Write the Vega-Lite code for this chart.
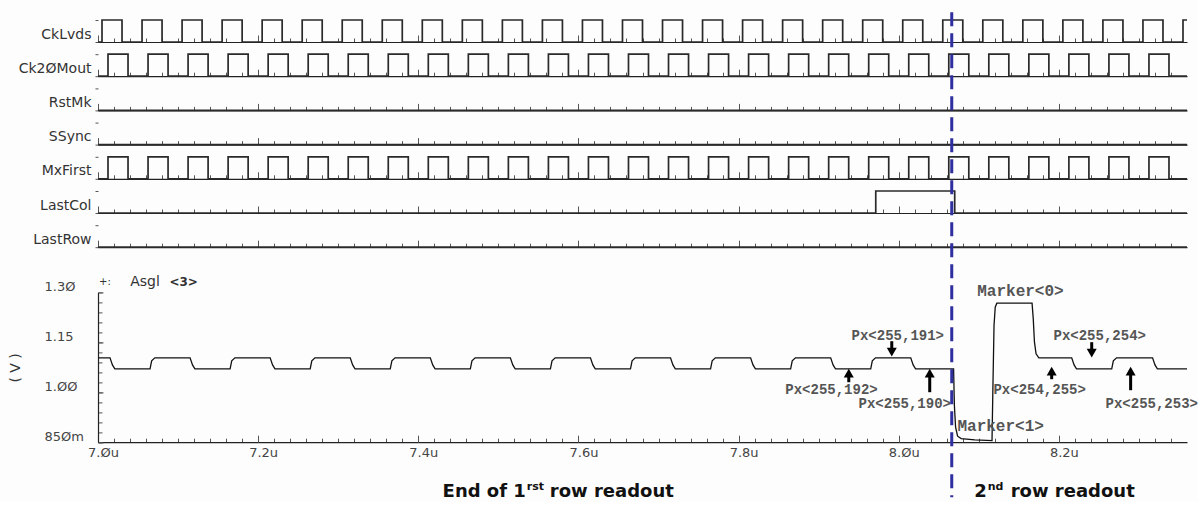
{
"$schema": "https://vega.github.io/schema/vega-lite/v6.json",
"background": "#fdfdfd",
"padding": {"left": 8, "top": 10, "right": 0, "bottom": 0},
"config": {
  "view": {"stroke": null},
  "axis": {"grid": false, "labelOverlap": false, "labelFlush": false, "labelFont": "DejaVu Sans", "titleFont": "DejaVu Sans", "labelColor": "#444", "titleColor": "#333", "domainColor": "#222", "tickColor": "#555"}
},
"datasets": {
  "digital": [
    {"signal":"CkLvds","t":7.000,"level":0},{"signal":"CkLvds","t":7.005,"level":1},{"signal":"CkLvds","t":7.030,"level":0},{"signal":"CkLvds","t":7.055,"level":1},{"signal":"CkLvds","t":7.080,"level":0},{"signal":"CkLvds","t":7.105,"level":1},{"signal":"CkLvds","t":7.130,"level":0},{"signal":"CkLvds","t":7.155,"level":1},{"signal":"CkLvds","t":7.180,"level":0},{"signal":"CkLvds","t":7.205,"level":1},{"signal":"CkLvds","t":7.230,"level":0},{"signal":"CkLvds","t":7.255,"level":1},{"signal":"CkLvds","t":7.280,"level":0},{"signal":"CkLvds","t":7.305,"level":1},{"signal":"CkLvds","t":7.330,"level":0},{"signal":"CkLvds","t":7.355,"level":1},{"signal":"CkLvds","t":7.380,"level":0},{"signal":"CkLvds","t":7.405,"level":1},{"signal":"CkLvds","t":7.430,"level":0},{"signal":"CkLvds","t":7.455,"level":1},{"signal":"CkLvds","t":7.480,"level":0},{"signal":"CkLvds","t":7.505,"level":1},{"signal":"CkLvds","t":7.530,"level":0},{"signal":"CkLvds","t":7.555,"level":1},{"signal":"CkLvds","t":7.580,"level":0},{"signal":"CkLvds","t":7.605,"level":1},{"signal":"CkLvds","t":7.630,"level":0},{"signal":"CkLvds","t":7.655,"level":1},{"signal":"CkLvds","t":7.680,"level":0},{"signal":"CkLvds","t":7.705,"level":1},{"signal":"CkLvds","t":7.730,"level":0},{"signal":"CkLvds","t":7.755,"level":1},{"signal":"CkLvds","t":7.780,"level":0},{"signal":"CkLvds","t":7.805,"level":1},{"signal":"CkLvds","t":7.830,"level":0},{"signal":"CkLvds","t":7.855,"level":1},{"signal":"CkLvds","t":7.880,"level":0},{"signal":"CkLvds","t":7.905,"level":1},{"signal":"CkLvds","t":7.930,"level":0},{"signal":"CkLvds","t":7.955,"level":1},{"signal":"CkLvds","t":7.980,"level":0},{"signal":"CkLvds","t":8.005,"level":1},{"signal":"CkLvds","t":8.030,"level":0},{"signal":"CkLvds","t":8.055,"level":1},{"signal":"CkLvds","t":8.080,"level":0},{"signal":"CkLvds","t":8.105,"level":1},{"signal":"CkLvds","t":8.130,"level":0},{"signal":"CkLvds","t":8.155,"level":1},{"signal":"CkLvds","t":8.180,"level":0},{"signal":"CkLvds","t":8.205,"level":1},{"signal":"CkLvds","t":8.230,"level":0},{"signal":"CkLvds","t":8.255,"level":1},{"signal":"CkLvds","t":8.280,"level":0},{"signal":"CkLvds","t":8.305,"level":1},{"signal":"CkLvds","t":8.330,"level":0},{"signal":"CkLvds","t":8.355,"level":1},{"signal":"CkLvds","t":8.360,"level":1},
    {"signal":"Ck20Mout","t":7.000,"level":0},{"signal":"Ck20Mout","t":7.0125,"level":1},{"signal":"Ck20Mout","t":7.0375,"level":0},{"signal":"Ck20Mout","t":7.0625,"level":1},{"signal":"Ck20Mout","t":7.0875,"level":0},{"signal":"Ck20Mout","t":7.1125,"level":1},{"signal":"Ck20Mout","t":7.1375,"level":0},{"signal":"Ck20Mout","t":7.1625,"level":1},{"signal":"Ck20Mout","t":7.1875,"level":0},{"signal":"Ck20Mout","t":7.2125,"level":1},{"signal":"Ck20Mout","t":7.2375,"level":0},{"signal":"Ck20Mout","t":7.2625,"level":1},{"signal":"Ck20Mout","t":7.2875,"level":0},{"signal":"Ck20Mout","t":7.3125,"level":1},{"signal":"Ck20Mout","t":7.3375,"level":0},{"signal":"Ck20Mout","t":7.3625,"level":1},{"signal":"Ck20Mout","t":7.3875,"level":0},{"signal":"Ck20Mout","t":7.4125,"level":1},{"signal":"Ck20Mout","t":7.4375,"level":0},{"signal":"Ck20Mout","t":7.4625,"level":1},{"signal":"Ck20Mout","t":7.4875,"level":0},{"signal":"Ck20Mout","t":7.5125,"level":1},{"signal":"Ck20Mout","t":7.5375,"level":0},{"signal":"Ck20Mout","t":7.5625,"level":1},{"signal":"Ck20Mout","t":7.5875,"level":0},{"signal":"Ck20Mout","t":7.6125,"level":1},{"signal":"Ck20Mout","t":7.6375,"level":0},{"signal":"Ck20Mout","t":7.6625,"level":1},{"signal":"Ck20Mout","t":7.6875,"level":0},{"signal":"Ck20Mout","t":7.7125,"level":1},{"signal":"Ck20Mout","t":7.7375,"level":0},{"signal":"Ck20Mout","t":7.7625,"level":1},{"signal":"Ck20Mout","t":7.7875,"level":0},{"signal":"Ck20Mout","t":7.8125,"level":1},{"signal":"Ck20Mout","t":7.8375,"level":0},{"signal":"Ck20Mout","t":7.8625,"level":1},{"signal":"Ck20Mout","t":7.8875,"level":0},{"signal":"Ck20Mout","t":7.9125,"level":1},{"signal":"Ck20Mout","t":7.9375,"level":0},{"signal":"Ck20Mout","t":7.9625,"level":1},{"signal":"Ck20Mout","t":7.9875,"level":0},{"signal":"Ck20Mout","t":8.0125,"level":1},{"signal":"Ck20Mout","t":8.0375,"level":0},{"signal":"Ck20Mout","t":8.0625,"level":1},{"signal":"Ck20Mout","t":8.0875,"level":0},{"signal":"Ck20Mout","t":8.1125,"level":1},{"signal":"Ck20Mout","t":8.1375,"level":0},{"signal":"Ck20Mout","t":8.1625,"level":1},{"signal":"Ck20Mout","t":8.1875,"level":0},{"signal":"Ck20Mout","t":8.2125,"level":1},{"signal":"Ck20Mout","t":8.2375,"level":0},{"signal":"Ck20Mout","t":8.2625,"level":1},{"signal":"Ck20Mout","t":8.2875,"level":0},{"signal":"Ck20Mout","t":8.3125,"level":1},{"signal":"Ck20Mout","t":8.3375,"level":0},{"signal":"Ck20Mout","t":8.360,"level":0},
    {"signal":"RstMk","t":7.000,"level":0},{"signal":"RstMk","t":8.360,"level":0},
    {"signal":"SSync","t":7.000,"level":0},{"signal":"SSync","t":8.360,"level":0},
    {"signal":"MxFirst","t":7.000,"level":0},{"signal":"MxFirst","t":7.0125,"level":1},{"signal":"MxFirst","t":7.0375,"level":0},{"signal":"MxFirst","t":7.0625,"level":1},{"signal":"MxFirst","t":7.0875,"level":0},{"signal":"MxFirst","t":7.1125,"level":1},{"signal":"MxFirst","t":7.1375,"level":0},{"signal":"MxFirst","t":7.1625,"level":1},{"signal":"MxFirst","t":7.1875,"level":0},{"signal":"MxFirst","t":7.2125,"level":1},{"signal":"MxFirst","t":7.2375,"level":0},{"signal":"MxFirst","t":7.2625,"level":1},{"signal":"MxFirst","t":7.2875,"level":0},{"signal":"MxFirst","t":7.3125,"level":1},{"signal":"MxFirst","t":7.3375,"level":0},{"signal":"MxFirst","t":7.3625,"level":1},{"signal":"MxFirst","t":7.3875,"level":0},{"signal":"MxFirst","t":7.4125,"level":1},{"signal":"MxFirst","t":7.4375,"level":0},{"signal":"MxFirst","t":7.4625,"level":1},{"signal":"MxFirst","t":7.4875,"level":0},{"signal":"MxFirst","t":7.5125,"level":1},{"signal":"MxFirst","t":7.5375,"level":0},{"signal":"MxFirst","t":7.5625,"level":1},{"signal":"MxFirst","t":7.5875,"level":0},{"signal":"MxFirst","t":7.6125,"level":1},{"signal":"MxFirst","t":7.6375,"level":0},{"signal":"MxFirst","t":7.6625,"level":1},{"signal":"MxFirst","t":7.6875,"level":0},{"signal":"MxFirst","t":7.7125,"level":1},{"signal":"MxFirst","t":7.7375,"level":0},{"signal":"MxFirst","t":7.7625,"level":1},{"signal":"MxFirst","t":7.7875,"level":0},{"signal":"MxFirst","t":7.8125,"level":1},{"signal":"MxFirst","t":7.8375,"level":0},{"signal":"MxFirst","t":7.8625,"level":1},{"signal":"MxFirst","t":7.8875,"level":0},{"signal":"MxFirst","t":7.9125,"level":1},{"signal":"MxFirst","t":7.9375,"level":0},{"signal":"MxFirst","t":7.9625,"level":1},{"signal":"MxFirst","t":7.9875,"level":0},{"signal":"MxFirst","t":8.0125,"level":1},{"signal":"MxFirst","t":8.0375,"level":0},{"signal":"MxFirst","t":8.0625,"level":1},{"signal":"MxFirst","t":8.0875,"level":0},{"signal":"MxFirst","t":8.1125,"level":1},{"signal":"MxFirst","t":8.1375,"level":0},{"signal":"MxFirst","t":8.1625,"level":1},{"signal":"MxFirst","t":8.1875,"level":0},{"signal":"MxFirst","t":8.2125,"level":1},{"signal":"MxFirst","t":8.2375,"level":0},{"signal":"MxFirst","t":8.2625,"level":1},{"signal":"MxFirst","t":8.2875,"level":0},{"signal":"MxFirst","t":8.3125,"level":1},{"signal":"MxFirst","t":8.3375,"level":0},{"signal":"MxFirst","t":8.360,"level":0},
    {"signal":"LastCol","t":7.000,"level":0},{"signal":"LastCol","t":7.9713,"level":1},{"signal":"LastCol","t":8.0699,"level":0},{"signal":"LastCol","t":8.360,"level":0},
    {"signal":"LastRow","t":7.000,"level":0},{"signal":"LastRow","t":8.360,"level":0}
  ],
  "analog": [
    {"t":7.000,"v":1.103},{"t":7.015,"v":1.103},{"t":7.018,"v":1.082},{"t":7.021,"v":1.070},
    {"t":7.065,"v":1.070},{"t":7.067,"v":1.094},{"t":7.071,"v":1.103},{"t":7.115,"v":1.103},{"t":7.118,"v":1.082},{"t":7.121,"v":1.070},
    {"t":7.165,"v":1.070},{"t":7.167,"v":1.094},{"t":7.171,"v":1.103},{"t":7.215,"v":1.103},{"t":7.218,"v":1.082},{"t":7.221,"v":1.070},
    {"t":7.265,"v":1.070},{"t":7.267,"v":1.094},{"t":7.271,"v":1.103},{"t":7.315,"v":1.103},{"t":7.318,"v":1.082},{"t":7.321,"v":1.070},
    {"t":7.365,"v":1.070},{"t":7.367,"v":1.094},{"t":7.371,"v":1.103},{"t":7.415,"v":1.103},{"t":7.418,"v":1.082},{"t":7.421,"v":1.070},
    {"t":7.465,"v":1.070},{"t":7.467,"v":1.094},{"t":7.471,"v":1.103},{"t":7.515,"v":1.103},{"t":7.518,"v":1.082},{"t":7.521,"v":1.070},
    {"t":7.565,"v":1.070},{"t":7.567,"v":1.094},{"t":7.571,"v":1.103},{"t":7.615,"v":1.103},{"t":7.618,"v":1.082},{"t":7.621,"v":1.070},
    {"t":7.665,"v":1.070},{"t":7.667,"v":1.094},{"t":7.671,"v":1.103},{"t":7.715,"v":1.103},{"t":7.718,"v":1.082},{"t":7.721,"v":1.070},
    {"t":7.765,"v":1.070},{"t":7.767,"v":1.094},{"t":7.771,"v":1.103},{"t":7.815,"v":1.103},{"t":7.818,"v":1.082},{"t":7.821,"v":1.070},
    {"t":7.865,"v":1.070},{"t":7.867,"v":1.094},{"t":7.871,"v":1.103},{"t":7.915,"v":1.103},{"t":7.918,"v":1.082},{"t":7.921,"v":1.070},
    {"t":7.965,"v":1.070},{"t":7.967,"v":1.094},{"t":7.971,"v":1.103},{"t":8.015,"v":1.103},{"t":8.018,"v":1.082},{"t":8.021,"v":1.070},
    {"t":8.0685,"v":1.070},{"t":8.0695,"v":0.960},{"t":8.0710,"v":0.895},{"t":8.0735,"v":0.868},{"t":8.078,"v":0.861},{"t":8.095,"v":0.857},{"t":8.1165,"v":0.855},
    {"t":8.1175,"v":1.000},{"t":8.1190,"v":1.200},{"t":8.1205,"v":1.255},{"t":8.1225,"v":1.267},
    {"t":8.1665,"v":1.267},{"t":8.1680,"v":1.220},{"t":8.1695,"v":1.150},{"t":8.1715,"v":1.115},{"t":8.1750,"v":1.103},
    {"t":8.216,"v":1.103},{"t":8.219,"v":1.082},{"t":8.222,"v":1.070},
    {"t":8.266,"v":1.070},{"t":8.268,"v":1.094},{"t":8.272,"v":1.103},
    {"t":8.317,"v":1.103},{"t":8.320,"v":1.082},{"t":8.323,"v":1.070},{"t":8.360,"v":1.070}
  ],
  "arrows": [
    {"t":7.9913,"v":1.120,"v2":1.153,"direction":"down"},
    {"t":7.9376,"v":1.057,"v2":1.030,"direction":"up"},
    {"t":8.0387,"v":1.057,"v2":1.000,"direction":"up"},
    {"t":8.2410,"v":1.117,"v2":1.150,"direction":"down"},
    {"t":8.1910,"v":1.063,"v2":1.039,"direction":"up"},
    {"t":8.2896,"v":1.063,"v2":1.006,"direction":"up"}
  ],
  "notes": [
    {"kind":"pixel","t":7.9988,"v":1.168,"label":"Px<255,191>"},
    {"kind":"pixel","t":7.916,"v":1.006,"label":"Px<255,192>"},
    {"kind":"pixel","t":8.0075,"v":0.964,"label":"Px<255,190>"},
    {"kind":"pixel","t":8.251,"v":1.168,"label":"Px<255,254>"},
    {"kind":"pixel","t":8.176,"v":1.006,"label":"Px<254,255>"},
    {"kind":"pixel","t":8.316,"v":0.964,"label":"Px<255,253>"},
    {"kind":"marker","t":8.152,"v":1.303,"label":"Marker<0>"},
    {"kind":"marker","t":8.1273,"v":0.898,"label":"Marker<1>"},
    {"kind":"prefix","t":7.0087,"v":1.33,"label":"+:"},
    {"kind":"name","t":7.0587,"v":1.33,"label":"Asgl"},
    {"kind":"index","t":7.107,"v":1.33,"label":"<3>"},
    {"kind":"caption","t":7.5343,"v":0.70,"label":"End of 1"},
    {"kind":"caption-sup","t":7.5343,"v":0.70,"label":"rst"},
    {"kind":"caption-tail","t":7.5343,"v":0.70,"label":"row readout"},
    {"kind":"caption","t":8.1099,"v":0.70,"label":"2"},
    {"kind":"caption-sup","t":8.1099,"v":0.70,"label":"nd"},
    {"kind":"caption-tail","t":8.1099,"v":0.70,"label":"row readout"}
  ],
  "boundary": [{"t":8.0662,"event":"row change"}]
},
"bounds": "flush",
"spacing": 12.2,
"vconcat": [
  {"width":1089,"height":22,"data":{"name":"digital"},"transform":[{"filter":"datum.signal == 'CkLvds'"}],
   "mark":{"type":"line","interpolate":"step-after","color":"#2a2a2a","strokeWidth":1.7},
   "encoding":{
    "x":{"field":"t","type":"quantitative","scale":{"domain":[7,8.36],"nice":false,"zero":false},"axis":{"orient":"bottom","values":[7,7.02,7.04,7.06,7.08,7.1,7.12,7.14,7.16,7.18,7.2,7.22,7.24,7.26,7.28,7.3,7.32,7.34,7.36,7.38,7.4,7.42,7.44,7.46,7.48,7.5,7.52,7.54,7.56,7.58,7.6,7.62,7.64,7.66,7.68,7.7,7.72,7.74,7.76,7.78,7.8,7.82,7.84,7.86,7.88,7.9,7.92,7.94,7.96,7.98,8,8.02,8.04,8.06,8.08,8.1,8.12,8.14,8.16,8.18,8.2,8.22,8.24,8.26,8.28,8.3,8.32,8.34],"tickSize":{"condition":{"test":"abs(datum.value*5-round(datum.value*5))<0.001","value":-7},"value":-4},"labels":false,"title":null,"domainWidth":1.2}},
    "y":{"field":"level","type":"quantitative","scale":{"domain":[0,1],"nice":false},"axis":{"values":[0,1],"tickSize":3,"labels":false,"domain":false,"title":"CkLvds","titleAngle":0,"titleAlign":"right","titleBaseline":"middle","titleX":-7,"titleY":14,"titleFontSize":14,"titleFontWeight":"normal"}}}},
  {"width":1089,"height":22,"data":{"name":"digital"},"transform":[{"filter":"datum.signal == 'Ck20Mout'"}],
   "mark":{"type":"line","interpolate":"step-after","color":"#2a2a2a","strokeWidth":1.7},
   "encoding":{
    "x":{"field":"t","type":"quantitative","scale":{"domain":[7,8.36],"nice":false,"zero":false},"axis":{"orient":"bottom","values":[7,7.02,7.04,7.06,7.08,7.1,7.12,7.14,7.16,7.18,7.2,7.22,7.24,7.26,7.28,7.3,7.32,7.34,7.36,7.38,7.4,7.42,7.44,7.46,7.48,7.5,7.52,7.54,7.56,7.58,7.6,7.62,7.64,7.66,7.68,7.7,7.72,7.74,7.76,7.78,7.8,7.82,7.84,7.86,7.88,7.9,7.92,7.94,7.96,7.98,8,8.02,8.04,8.06,8.08,8.1,8.12,8.14,8.16,8.18,8.2,8.22,8.24,8.26,8.28,8.3,8.32,8.34],"tickSize":{"condition":{"test":"abs(datum.value*5-round(datum.value*5))<0.001","value":-7},"value":-4},"labels":false,"title":null,"domainWidth":1.2}},
    "y":{"field":"level","type":"quantitative","scale":{"domain":[0,1],"nice":false},"axis":{"values":[0,1],"tickSize":3,"labels":false,"domain":false,"title":"Ck2ØMout","titleAngle":0,"titleAlign":"right","titleBaseline":"middle","titleX":-7,"titleY":14,"titleFontSize":14,"titleFontWeight":"normal"}}}},
  {"width":1089,"height":22,"data":{"name":"digital"},"transform":[{"filter":"datum.signal == 'RstMk'"}],
   "mark":{"type":"line","interpolate":"step-after","color":"#2a2a2a","strokeWidth":1.7},
   "encoding":{
    "x":{"field":"t","type":"quantitative","scale":{"domain":[7,8.36],"nice":false,"zero":false},"axis":{"orient":"bottom","values":[7,7.02,7.04,7.06,7.08,7.1,7.12,7.14,7.16,7.18,7.2,7.22,7.24,7.26,7.28,7.3,7.32,7.34,7.36,7.38,7.4,7.42,7.44,7.46,7.48,7.5,7.52,7.54,7.56,7.58,7.6,7.62,7.64,7.66,7.68,7.7,7.72,7.74,7.76,7.78,7.8,7.82,7.84,7.86,7.88,7.9,7.92,7.94,7.96,7.98,8,8.02,8.04,8.06,8.08,8.1,8.12,8.14,8.16,8.18,8.2,8.22,8.24,8.26,8.28,8.3,8.32,8.34],"tickSize":{"condition":{"test":"abs(datum.value*5-round(datum.value*5))<0.001","value":-7},"value":-4},"labels":false,"title":null,"domainWidth":1.2}},
    "y":{"field":"level","type":"quantitative","scale":{"domain":[0,1],"nice":false},"axis":{"values":[0,1],"tickSize":3,"labels":false,"domain":false,"title":"RstMk","titleAngle":0,"titleAlign":"right","titleBaseline":"middle","titleX":-7,"titleY":14,"titleFontSize":14,"titleFontWeight":"normal"}}}},
  {"width":1089,"height":22,"data":{"name":"digital"},"transform":[{"filter":"datum.signal == 'SSync'"}],
   "mark":{"type":"line","interpolate":"step-after","color":"#2a2a2a","strokeWidth":1.7},
   "encoding":{
    "x":{"field":"t","type":"quantitative","scale":{"domain":[7,8.36],"nice":false,"zero":false},"axis":{"orient":"bottom","values":[7,7.02,7.04,7.06,7.08,7.1,7.12,7.14,7.16,7.18,7.2,7.22,7.24,7.26,7.28,7.3,7.32,7.34,7.36,7.38,7.4,7.42,7.44,7.46,7.48,7.5,7.52,7.54,7.56,7.58,7.6,7.62,7.64,7.66,7.68,7.7,7.72,7.74,7.76,7.78,7.8,7.82,7.84,7.86,7.88,7.9,7.92,7.94,7.96,7.98,8,8.02,8.04,8.06,8.08,8.1,8.12,8.14,8.16,8.18,8.2,8.22,8.24,8.26,8.28,8.3,8.32,8.34],"tickSize":{"condition":{"test":"abs(datum.value*5-round(datum.value*5))<0.001","value":-7},"value":-4},"labels":false,"title":null,"domainWidth":1.2}},
    "y":{"field":"level","type":"quantitative","scale":{"domain":[0,1],"nice":false},"axis":{"values":[0,1],"tickSize":3,"labels":false,"domain":false,"title":"SSync","titleAngle":0,"titleAlign":"right","titleBaseline":"middle","titleX":-7,"titleY":14,"titleFontSize":14,"titleFontWeight":"normal"}}}},
  {"width":1089,"height":22,"data":{"name":"digital"},"transform":[{"filter":"datum.signal == 'MxFirst'"}],
   "mark":{"type":"line","interpolate":"step-after","color":"#2a2a2a","strokeWidth":1.7},
   "encoding":{
    "x":{"field":"t","type":"quantitative","scale":{"domain":[7,8.36],"nice":false,"zero":false},"axis":{"orient":"bottom","values":[7,7.02,7.04,7.06,7.08,7.1,7.12,7.14,7.16,7.18,7.2,7.22,7.24,7.26,7.28,7.3,7.32,7.34,7.36,7.38,7.4,7.42,7.44,7.46,7.48,7.5,7.52,7.54,7.56,7.58,7.6,7.62,7.64,7.66,7.68,7.7,7.72,7.74,7.76,7.78,7.8,7.82,7.84,7.86,7.88,7.9,7.92,7.94,7.96,7.98,8,8.02,8.04,8.06,8.08,8.1,8.12,8.14,8.16,8.18,8.2,8.22,8.24,8.26,8.28,8.3,8.32,8.34],"tickSize":{"condition":{"test":"abs(datum.value*5-round(datum.value*5))<0.001","value":-7},"value":-4},"labels":false,"title":null,"domainWidth":1.2}},
    "y":{"field":"level","type":"quantitative","scale":{"domain":[0,1],"nice":false},"axis":{"values":[0,1],"tickSize":3,"labels":false,"domain":false,"title":"MxFirst","titleAngle":0,"titleAlign":"right","titleBaseline":"middle","titleX":-7,"titleY":14,"titleFontSize":14,"titleFontWeight":"normal"}}}},
  {"width":1089,"height":22,"data":{"name":"digital"},"transform":[{"filter":"datum.signal == 'LastCol'"}],
   "mark":{"type":"line","interpolate":"step-after","color":"#2a2a2a","strokeWidth":1.7},
   "encoding":{
    "x":{"field":"t","type":"quantitative","scale":{"domain":[7,8.36],"nice":false,"zero":false},"axis":{"orient":"bottom","values":[7,7.02,7.04,7.06,7.08,7.1,7.12,7.14,7.16,7.18,7.2,7.22,7.24,7.26,7.28,7.3,7.32,7.34,7.36,7.38,7.4,7.42,7.44,7.46,7.48,7.5,7.52,7.54,7.56,7.58,7.6,7.62,7.64,7.66,7.68,7.7,7.72,7.74,7.76,7.78,7.8,7.82,7.84,7.86,7.88,7.9,7.92,7.94,7.96,7.98,8,8.02,8.04,8.06,8.08,8.1,8.12,8.14,8.16,8.18,8.2,8.22,8.24,8.26,8.28,8.3,8.32,8.34],"tickSize":{"condition":{"test":"abs(datum.value*5-round(datum.value*5))<0.001","value":-7},"value":-4},"labels":false,"title":null,"domainWidth":1.2}},
    "y":{"field":"level","type":"quantitative","scale":{"domain":[0,1],"nice":false},"axis":{"values":[0,1],"tickSize":3,"labels":false,"domain":false,"title":"LastCol","titleAngle":0,"titleAlign":"right","titleBaseline":"middle","titleX":-7,"titleY":14,"titleFontSize":14,"titleFontWeight":"normal"}}}},
  {"width":1089,"height":22,"data":{"name":"digital"},"transform":[{"filter":"datum.signal == 'LastRow'"}],
   "mark":{"type":"line","interpolate":"step-after","color":"#2a2a2a","strokeWidth":1.7},
   "encoding":{
    "x":{"field":"t","type":"quantitative","scale":{"domain":[7,8.36],"nice":false,"zero":false},"axis":{"orient":"bottom","values":[7,7.02,7.04,7.06,7.08,7.1,7.12,7.14,7.16,7.18,7.2,7.22,7.24,7.26,7.28,7.3,7.32,7.34,7.36,7.38,7.4,7.42,7.44,7.46,7.48,7.5,7.52,7.54,7.56,7.58,7.6,7.62,7.64,7.66,7.68,7.7,7.72,7.74,7.76,7.78,7.8,7.82,7.84,7.86,7.88,7.9,7.92,7.94,7.96,7.98,8,8.02,8.04,8.06,8.08,8.1,8.12,8.14,8.16,8.18,8.2,8.22,8.24,8.26,8.28,8.3,8.32,8.34],"tickSize":{"condition":{"test":"abs(datum.value*5-round(datum.value*5))<0.001","value":-7},"value":-4},"labels":false,"title":null,"domainWidth":1.2}},
    "y":{"field":"level","type":"quantitative","scale":{"domain":[0,1],"nice":false},"axis":{"values":[0,1],"tickSize":3,"labels":false,"domain":false,"title":"LastRow","titleAngle":0,"titleAlign":"right","titleBaseline":"middle","titleX":-7,"titleY":14,"titleFontSize":14,"titleFontWeight":"normal"}}}},
  {
    "width": 1089, "height": 182.8,
    "resolve": {"axis": {"x": "independent", "y": "independent"}},
    "layer": [
      {"data":{"name":"analog"},"mark":{"type":"line","color":"#111","strokeWidth":1.3},
       "encoding":{
        "x":{"field":"t","type":"quantitative","scale":{"domain":[7,8.36],"nice":false,"zero":false},"axis":{"orient":"bottom","values":[7,7.02,7.04,7.06,7.08,7.1,7.12,7.14,7.16,7.18,7.2,7.22,7.24,7.26,7.28,7.3,7.32,7.34,7.36,7.38,7.4,7.42,7.44,7.46,7.48,7.5,7.52,7.54,7.56,7.58,7.6,7.62,7.64,7.66,7.68,7.7,7.72,7.74,7.76,7.78,7.8,7.82,7.84,7.86,7.88,7.9,7.92,7.94,7.96,7.98,8,8.02,8.04,8.06,8.08,8.1,8.12,8.14,8.16,8.18,8.2,8.22,8.24,8.26,8.28,8.3,8.32,8.34],"tickSize":-4,"labels":false,"title":null,"domainWidth":1.2}},
        "y":{"field":"v","type":"quantitative","scale":{"domain":[0.85,1.3],"range":[182.8,32.8],"nice":false,"zero":false},"axis":{"orient":"left","values":[0.85,0.88,0.91,0.94,0.97,1.0,1.03,1.06,1.09,1.12,1.15,1.18,1.21,1.24,1.27,1.3],"tickSize":-4,"labels":false,"title":null,"domainWidth":1.2}}}},
      {"data":{"name":"arrows"},"mark":{"type":"rule","color":"#000","strokeWidth":3},
       "encoding":{
        "x":{"field":"t","type":"quantitative","scale":{"domain":[7,8.36],"nice":false,"zero":false},"axis":{"orient":"bottom","values":[7,7.2,7.4,7.6,7.8,8,8.2],"tickSize":-7,"domain":false,"labelExpr":"replace(format(datum.value,'.1f'),regexp('0','g'),'Ø')+'u'","labelOffset":5,"labelPadding":11,"labelBaseline":"top","labelFontSize":13,"title":null}},
        "y":{"field":"v","type":"quantitative","scale":{"domain":[0.85,1.3],"range":[182.8,32.8],"nice":false,"zero":false},"axis":{"orient":"left","values":[0.85,1.0,1.15,1.3],"tickSize":-5,"domain":false,"labelExpr":"datum.value<1 ? replace(format(datum.value*1000,'.0f'),regexp('0','g'),'Ø')+'m' : replace(format(datum.value,'.2f'),regexp('0','g'),'Ø')","labelAlign":"left","labelBaseline":"middle","labelPadding":59,"labelOffset":-6,"labelFontSize":13,"title":"( V )","titleX":-83,"titleY":108,"titleAngle":270,"titleAlign":"center","titleBaseline":"middle","titleFontSize":14,"titleFontWeight":"normal"}},
        "y2":{"field":"v2"}}},
      {"data":{"name":"arrows"},"mark":{"type":"point","filled":true,"size":100,"color":"#000","opacity":1},
       "encoding":{"x":{"field":"t","type":"quantitative","axis":null},"y":{"field":"v","type":"quantitative","axis":null},
        "shape":{"field":"direction","type":"nominal","scale":{"domain":["up","down"],"range":["triangle-up","triangle-down"]},"legend":null}}},
      {"data":{"name":"notes"},"transform":[{"filter":"datum.kind == 'pixel'"}],"mark":{"type":"text","font":"Liberation Mono","fontWeight":"bold","fontSize":14,"color":"#555","align":"center","baseline":"middle"},
       "encoding":{"x":{"field":"t","type":"quantitative","axis":null},"y":{"field":"v","type":"quantitative","axis":null},"text":{"field":"label"}}},
      {"data":{"name":"notes"},"transform":[{"filter":"datum.kind == 'marker'"}],"mark":{"type":"text","font":"Liberation Mono","fontWeight":"bold","fontSize":16,"color":"#555","align":"center","baseline":"middle"},
       "encoding":{"x":{"field":"t","type":"quantitative","axis":null},"y":{"field":"v","type":"quantitative","axis":null},"text":{"field":"label"}}},
      {"data":{"name":"notes"},"transform":[{"filter":"datum.kind == 'prefix'"}],"mark":{"type":"text","font":"DejaVu Sans","fontSize":10,"color":"#333","align":"center","baseline":"middle"},
       "encoding":{"x":{"field":"t","type":"quantitative","axis":null},"y":{"field":"v","type":"quantitative","axis":null},"text":{"field":"label"}}},
      {"data":{"name":"notes"},"transform":[{"filter":"datum.kind == 'name'"}],"mark":{"type":"text","font":"DejaVu Sans","fontSize":14,"color":"#333","align":"center","baseline":"middle"},
       "encoding":{"x":{"field":"t","type":"quantitative","axis":null},"y":{"field":"v","type":"quantitative","axis":null},"text":{"field":"label"}}},
      {"data":{"name":"notes"},"transform":[{"filter":"datum.kind == 'index'"}],"mark":{"type":"text","font":"DejaVu Sans","fontWeight":"bold","fontSize":12,"color":"#333","align":"center","baseline":"middle"},
       "encoding":{"x":{"field":"t","type":"quantitative","axis":null},"y":{"field":"v","type":"quantitative","axis":null},"text":{"field":"label"}}},
      {"data":{"name":"notes"},"transform":[{"filter":"datum.kind == 'caption'"}],"mark":{"type":"text","font":"DejaVu Sans","fontWeight":"bold","fontSize":18,"color":"#111","align":"right","baseline":"middle"},
       "encoding":{"x":{"field":"t","type":"quantitative","axis":null},"y":{"field":"v","type":"quantitative","axis":null},"text":{"field":"label"}}},
      {"data":{"name":"notes"},"transform":[{"filter":"datum.kind == 'caption-sup'"}],"mark":{"type":"text","font":"DejaVu Sans","fontWeight":"bold","fontSize":11,"color":"#111","align":"left","baseline":"middle","dx":1,"dy":-5},
       "encoding":{"x":{"field":"t","type":"quantitative","axis":null},"y":{"field":"v","type":"quantitative","axis":null},"text":{"field":"label"}}},
      {"data":{"name":"notes"},"transform":[{"filter":"datum.kind == 'caption-tail'"}],"mark":{"type":"text","font":"DejaVu Sans","fontWeight":"bold","fontSize":18,"color":"#111","align":"left","baseline":"middle","dx":24},
       "encoding":{"x":{"field":"t","type":"quantitative","axis":null},"y":{"field":"v","type":"quantitative","axis":null},"text":{"field":"label"}}},
      {"data":{"name":"boundary"},"mark":{"type":"rule","color":"#2f2f9f","strokeWidth":3,"strokeDash":[14,7]},
       "encoding":{"x":{"field":"t","type":"quantitative","axis":null},"y":{"datum":2.14,"type":"quantitative","axis":null},"y2":{"datum":0.685}}}
    ]
  }
]
}
